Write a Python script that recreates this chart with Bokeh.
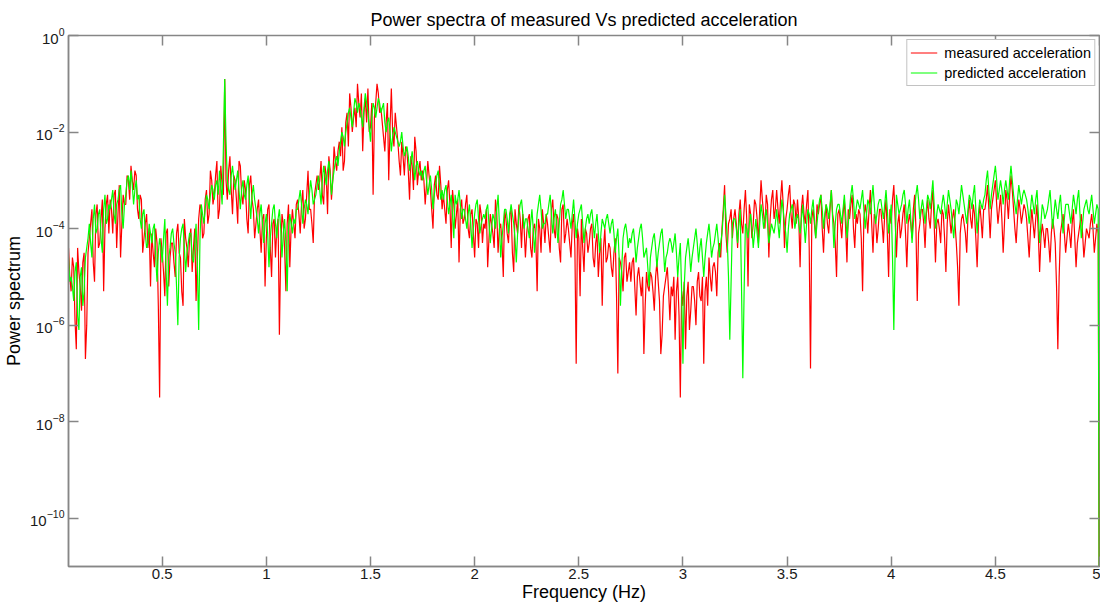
import numpy as np
from bokeh.plotting import figure
from bokeh.models import (Range1d, FixedTicker, LogAxis, LinearAxis,
                          NumeralTickFormatter, Legend, LegendItem)
from bokeh.embed import file_html
from bokeh.resources import INLINE

# ---- data ----
title_text = "Power spectra of measured Vs predicted acceleration"
x_label = "Frequency (Hz)"
y_label = "Power spectrum"
series_names = ["measured acceleration", "predicted acceleration"]

freq_start_hz = 0.05
freq_step_hz = 0.00625
n_bins = 793
frequency_hz = [round(freq_start_hz + freq_step_hz * i, 5) for i in range(n_bins)]

# Power spectrum values as log10(power).
# "even" lists hold bins 0, 2, 4, ... (0.05, 0.0625, ... 5.0 Hz),
# "odd" lists hold the bins in between (0.05625, 0.06875, ... 4.99375 Hz).
measured_log10_even = [
    -4.4, -5.3, -4.8, -6.5, -4.9, -5.7, -4.5, -6.0,
    -4.2, -3.6, -5.1, -3.5, -4.3, -3.4, -4.0, -3.3,
    -3.4, -4.1, -3.2, -3.7, -4.6, -3.3, -3.5, -3.0,
    -2.7, -3.2, -2.9, -3.8, -3.4, -4.2, -3.7, -4.0,
    -4.1, -4.8, -4.3, -7.5, -4.5, -5.4, -4.0, -4.6,
    -4.3, -5.0, -3.9, -4.6, -5.6, -4.2, -4.8, -4.0,
    -4.4, -5.5, -3.8, -3.6, -4.1, -3.2, -3.7, -3.0,
    -3.3, -2.6, -3.6, -3.1, -0.9, -3.4, -2.5, -3.7,
    -3.0, -3.9, -2.7, -3.5, -3.2, -4.1, -2.9, -3.6,
    -3.9, -3.4, -4.5, -3.7, -4.2, -3.5, -5.0, -3.8,
    -4.0, -6.2, -3.7, -4.4, -3.9, -4.8, -3.6, -4.2,
    -3.4, -4.1, -3.2, -3.8, -2.8, -3.6, -4.3, -3.1,
    -3.2, -2.6, -3.5, -2.9, -2.5, -3.4, -2.3, -2.8,
    -2.2, -1.9, -2.6, -1.6, -1.2, -2.0, -1.5, -1.0,
    -1.7, -2.4, -1.3, -1.1, -1.9, -3.3, -1.4, -1.2,
    -1.5, -2.1, -1.8, -3.0, -1.1, -2.3, -1.9, -2.6,
    -2.2, -2.9, -2.4, -3.4, -2.7, -2.1, -3.1, -2.6,
    -2.8, -3.5, -2.6, -3.2, -4.0, -2.9, -3.4, -3.1,
    -3.3, -3.9, -3.0, -4.4, -3.5, -3.7, -4.7, -3.4,
    -3.8, -3.3, -4.2, -3.6, -4.6, -3.9, -3.5, -4.3,
    -4.0, -4.8, -3.7, -4.1, -3.4, -4.5, -3.9, -5.0,
    -3.8, -4.3, -3.6, -4.9, -3.9, -3.5, -4.4, -4.0,
    -4.1, -3.7, -4.6, -3.9, -5.3, -4.0, -3.6, -4.3,
    -3.9, -4.5, -3.4, -4.2, -3.8, -4.7, -3.5, -4.1,
    -4.0, -4.6, -3.7, -6.8, -4.2, -3.8, -4.9, -4.1,
    -4.3, -3.9, -4.8, -4.1, -4.5, -5.6, -4.0, -4.6,
    -4.4, -5.0, -4.2, -7.0, -4.7, -5.3, -4.5, -4.9,
    -5.1, -4.6, -5.8, -4.8, -5.4, -6.6, -4.9, -5.3,
    -5.0, -5.7, -4.7, -5.5, -6.2, -5.2, -4.8, -5.9,
    -5.4, -6.3, -5.0, -7.5, -5.6, -6.5, -5.1, -5.7,
    -5.2, -6.0, -4.9, -5.5, -6.8, -5.0, -4.6, -5.3,
    -4.7, -5.4, -4.3, -4.0, -3.1, -4.5, -3.8, -4.2,
    -3.6, -4.4, -3.4, -4.1, -3.2, -5.2, -3.7, -3.9,
    -3.5, -4.3, -3.0, -3.7, -3.3, -4.6, -3.4, -3.8,
    -3.2, -3.9, -3.0, -4.4, -3.6, -3.1, -4.0, -3.5,
    -3.4, -4.8, -3.3, -3.9, -3.2, -6.9, -3.6, -4.2,
    -3.7, -3.3, -4.5, -3.5, -4.1, -3.2, -3.9, -5.0,
    -3.6, -4.2, -3.4, -4.7, -3.8, -3.3, -4.4, -3.9,
    -3.7, -5.3, -3.5, -4.1, -3.2, -4.5, -3.8, -4.0,
    -3.6, -4.3, -3.4, -5.0, -3.9, -3.1, -4.6, -3.7,
    -4.0, -3.5, -4.8, -3.7, -4.2, -3.3, -5.5, -3.9,
    -3.6, -4.4, -3.4, -4.0, -3.2, -4.7, -3.8, -4.3,
    -3.7, -4.9, -3.5, -4.1, -3.6, -4.3, -5.6, -3.8,
    -3.9, -4.5, -3.4, -4.0, -3.7, -4.8, -3.5, -4.2,
    -3.6, -3.1, -4.2, -3.4, -3.0, -3.9, -3.3, -4.5,
    -3.2, -3.8, -2.9, -3.6, -4.3, -3.4, -3.9, -3.5,
    -3.8, -4.6, -3.6, -4.2, -3.5, -4.9, -3.9, -4.4,
    -4.0, -4.7, -3.8, -4.3, -6.5, -4.1, -3.7, -4.5,
    -3.9, -4.4, -3.6, -4.8, -4.1, -3.7, -4.6, -4.0,
    -4.2, -3.7, -4.5, -3.9, -14.0,
]

measured_log10_odd = [
    -5.0, -4.6, -5.9, -4.4, -5.2, -4.7, -6.7, -4.5,
    -3.9, -4.7, -3.7, -4.4, -3.8, -5.3, -3.5, -4.1,
    -3.6, -3.3, -4.4, -3.1, -3.9, -3.5, -2.9, -3.4,
    -3.0, -2.8, -3.6, -3.3, -4.5, -3.9, -4.4, -5.2,
    -4.5, -4.0, -5.6, -4.2, -4.9, -4.1, -5.2, -4.3,
    -4.7, -4.1, -4.5, -5.3, -3.8, -4.4, -4.2, -4.9,
    -4.0, -4.6, -3.5, -4.2, -3.4, -3.9, -2.8, -3.5,
    -2.9, -3.8, -2.7, -3.3, -3.0, -2.8, -3.2, -2.9,
    -3.4, -2.6, -3.3, -3.0, -3.8, -3.1, -3.4, -4.2,
    -3.6, -4.0, -3.8, -5.2, -3.6, -4.4, -3.9, -4.6,
    -3.8, -4.5, -3.9, -5.3, -3.5, -4.0, -3.9, -3.5,
    -3.7, -3.5, -4.0, -3.3, -3.6, -3.9, -3.3, -2.9,
    -3.0, -3.3, -2.7, -3.7, -2.8, -3.0, -2.6, -2.4,
    -2.5, -2.8, -1.8, -2.3, -1.5, -1.7, -1.9, -1.4,
    -1.2, -1.6, -1.8, -2.0, -1.4, -1.7, -1.0, -1.6,
    -1.8, -2.4, -1.4, -1.9, -2.0, -1.6, -2.2, -2.9,
    -2.5, -2.3, -2.8, -2.5, -3.2, -2.4, -2.8, -3.0,
    -3.0, -3.1, -2.9, -3.6, -3.1, -3.3, -2.7, -3.6,
    -3.6, -3.2, -3.5, -3.2, -4.0, -3.4, -3.6, -3.9,
    -3.5, -4.0, -3.7, -4.1, -3.8, -4.4, -3.7, -3.9,
    -3.6, -4.2, -3.9, -4.4, -3.7, -4.0, -4.3, -3.6,
    -4.1, -3.7, -4.5, -3.6, -4.1, -3.8, -3.7, -4.6,
    -3.8, -4.4, -4.0, -4.2, -3.8, -4.5, -3.9, -3.7,
    -4.2, -3.6, -4.0, -3.7, -4.4, -3.6, -4.3, -3.8,
    -4.3, -3.9, -4.4, -4.0, -5.4, -4.4, -4.0, -4.5,
    -4.0, -4.6, -4.3, -5.0, -4.2, -4.4, -4.7, -4.3,
    -4.8, -4.5, -5.4, -4.6, -4.9, -4.6, -5.1, -4.7,
    -4.7, -5.2, -5.0, -5.1, -5.0, -5.6, -5.2, -4.9,
    -5.3, -5.0, -5.1, -6.6, -5.4, -5.0, -5.3, -5.2,
    -5.0, -5.3, -5.8, -5.3, -5.1, -5.4, -6.1, -5.2,
    -5.5, -5.1, -5.4, -5.0, -5.3, -5.6, -5.0, -4.8,
    -4.9, -4.5, -4.6, -3.6, -4.1, -3.9, -3.6, -3.8,
    -3.9, -3.7, -3.9, -3.6, -3.8, -3.5, -4.2, -3.4,
    -3.8, -3.6, -3.4, -4.0, -3.5, -3.8, -3.2, -3.6,
    -3.6, -3.4, -3.5, -3.8, -3.3, -3.7, -3.4, -3.9,
    -3.8, -3.6, -3.7, -3.5, -4.4, -3.8, -3.9, -3.5,
    -3.5, -4.0, -3.8, -3.9, -3.6, -3.7, -4.3, -3.7,
    -3.9, -3.7, -4.0, -3.6, -3.5, -4.0, -3.7, -3.6,
    -4.2, -3.8, -3.7, -3.6, -3.9, -3.7, -4.3, -3.6,
    -3.9, -3.7, -4.1, -3.6, -3.4, -3.8, -3.9, -4.2,
    -3.7, -4.1, -3.9, -3.9, -3.6, -4.0, -4.1, -3.6,
    -3.9, -3.7, -3.8, -3.5, -3.9, -3.9, -4.0, -3.6,
    -4.2, -3.9, -3.8, -3.8, -3.9, -4.8, -4.1, -3.7,
    -4.1, -3.7, -3.8, -3.5, -4.2, -3.9, -3.8, -3.6,
    -3.4, -3.6, -3.6, -3.2, -3.5, -3.6, -3.8, -3.9,
    -3.4, -3.3, -3.2, -4.0, -3.8, -3.6, -3.7, -3.6,
    -4.2, -4.0, -3.9, -3.8, -4.1, -4.2, -4.1, -4.0,
    -4.3, -4.1, -4.0, -5.2, -5.0, -3.9, -4.1, -4.2,
    -4.1, -3.9, -4.2, -4.3, -3.9, -4.1, -4.3, -4.1,
    -3.9, -4.0, -4.2, -4.1,
]

predicted_log10_even = [
    -4.6, -5.0, -5.5, -4.7, -6.1, -4.8, -5.3, -4.4,
    -3.9, -4.6, -3.5, -4.0, -3.6, -4.5, -3.3, -3.8,
    -3.6, -3.2, -3.9, -3.4, -3.1, -4.0, -3.3, -2.9,
    -2.8, -3.5, -3.0, -3.3, -4.0, -3.6, -4.4, -3.9,
    -4.3, -3.9, -5.1, -4.2, -4.7, -3.8, -5.6, -4.4,
    -4.0, -4.5, -6.0, -4.2, -3.9, -4.9, -4.3, -4.1,
    -4.7, -3.9, -6.1, -3.5, -3.9, -3.3, -3.6, -3.1,
    -3.4, -3.0, -2.8, -3.5, -0.9, -3.0, -3.3, -2.7,
    -3.2, -2.8, -3.6, -3.0, -3.4, -2.9, -3.8, -3.1,
    -3.6, -4.1, -3.5, -4.3, -3.7, -4.8, -3.9, -3.5,
    -4.2, -3.6, -4.6, -3.8, -5.3, -3.7, -4.1, -3.9,
    -3.6, -3.2, -3.9, -3.4, -3.7, -3.0, -3.5, -3.3,
    -2.9, -3.5, -2.7, -3.1, -2.6, -3.3, -2.8, -2.5,
    -2.4, -2.0, -2.3, -1.8, -1.5, -1.9, -1.3, -1.6,
    -1.5, -1.9, -1.2, -1.6, -2.2, -1.4, -1.7, -1.3,
    -1.6, -1.4, -2.0, -1.7, -2.4, -1.9, -2.1, -2.3,
    -2.0, -2.5, -2.3, -2.8, -2.4, -3.0, -2.6, -2.9,
    -3.0, -2.7, -3.3, -2.9, -3.6, -3.1, -2.8, -3.4,
    -3.4, -3.1, -3.7, -3.3, -4.2, -3.5, -3.2, -3.8,
    -3.6, -4.0, -3.5, -4.4, -3.7, -3.4, -4.1, -3.8,
    -3.8, -3.5, -4.3, -3.7, -4.0, -3.3, -4.6, -3.9,
    -3.6, -4.1, -3.5, -3.9, -4.7, -3.7, -3.4, -4.0,
    -3.8, -4.2, -3.6, -4.5, -3.7, -3.3, -4.0, -3.9,
    -3.7, -3.3, -4.1, -3.6, -4.3, -3.5, -3.2, -3.8,
    -3.6, -4.0, -3.4, -4.2, -3.7, -3.5, -4.3, -3.8,
    -3.9, -3.6, -4.2, -3.7, -4.5, -3.8, -4.0, -3.7,
    -4.1, -3.8, -4.5, -4.0, -5.6, -4.2, -3.9, -4.4,
    -4.3, -4.0, -4.7, -4.2, -3.9, -4.6, -4.4, -5.2,
    -4.4, -4.1, -4.8, -4.3, -4.0, -4.9, -4.5, -4.2,
    -4.5, -4.1, -5.0, -4.3, -6.8, -4.6, -4.2, -4.9,
    -4.4, -4.0, -4.7, -4.2, -5.0, -4.3, -3.9, -4.6,
    -4.3, -3.9, -4.6, -4.1, -3.3, -4.2, -6.3, -3.9,
    -3.8, -4.3, -3.6, -7.1, -3.9, -4.2, -3.7, -4.4,
    -3.8, -4.4, -3.5, -4.0, -3.6, -4.3, -3.9, -4.1,
    -3.6, -4.2, -3.4, -3.9, -4.5, -3.7, -3.5, -4.0,
    -3.7, -4.1, -3.5, -4.3, -3.6, -3.9, -3.4, -4.2,
    -3.6, -3.3, -4.0, -3.5, -3.8, -3.2, -4.4, -3.6,
    -3.5, -3.9, -3.3, -4.2, -3.6, -3.1, -3.8, -3.4,
    -3.6, -3.2, -4.0, -3.4, -3.7, -3.1, -3.9, -3.5,
    -3.4, -3.8, -3.2, -4.1, -3.5, -6.1, -3.3, -3.7,
    -3.5, -3.2, -3.9, -3.4, -4.3, -3.6, -3.1, -3.8,
    -3.4, -3.9, -3.3, -3.6, -3.0, -4.0, -3.5, -3.7,
    -3.3, -3.8, -3.2, -3.6, -4.2, -3.4, -3.7, -3.1,
    -3.5, -3.9, -3.3, -3.6, -3.1, -4.1, -3.4, -3.6,
    -3.3, -2.8, -3.6, -3.1, -2.7, -3.4, -3.0, -3.5,
    -3.0, -3.4, -2.7, -3.3, -3.7, -3.1, -3.5, -3.2,
    -3.4, -3.9, -3.3, -3.7, -3.2, -4.3, -3.5, -3.8,
    -3.6, -3.2, -4.0, -3.4, -3.8, -3.3, -4.1, -3.5,
    -3.5, -3.9, -3.3, -3.7, -3.2, -4.2, -3.6, -3.4,
    -3.7, -3.3, -3.9, -3.5, -14.0,
]

predicted_log10_odd = [
    -5.1, -5.2, -4.9, -5.8, -5.0, -5.6, -4.6, -4.2,
    -4.3, -3.8, -4.1, -3.7, -4.2, -3.6, -3.9, -3.5,
    -3.4, -3.7, -3.5, -3.2, -3.7, -3.5, -3.0, -3.2,
    -3.1, -3.2, -3.4, -3.8, -3.7, -4.1, -4.3, -4.1,
    -4.0, -4.6, -4.5, -4.4, -4.2, -4.9, -4.6, -4.1,
    -4.3, -5.2, -4.6, -4.0, -4.4, -4.5, -4.1, -4.6,
    -4.3, -4.8, -4.2, -3.7, -3.6, -3.4, -3.3, -3.2,
    -3.1, -3.3, -3.1, -2.3, -2.2, -3.2, -2.9, -3.0,
    -3.0, -3.2, -3.2, -3.3, -3.1, -3.4, -3.3, -3.4,
    -3.8, -3.7, -3.9, -3.9, -4.1, -4.2, -3.6, -3.9,
    -3.8, -4.0, -4.1, -4.3, -4.0, -3.9, -3.8, -3.6,
    -3.4, -3.5, -3.6, -3.5, -3.3, -3.2, -3.4, -3.1,
    -3.2, -3.0, -2.9, -2.8, -2.9, -3.0, -2.6, -2.7,
    -2.2, -2.1, -2.0, -1.6, -1.7, -1.6, -1.4, -1.4,
    -1.7, -1.5, -1.4, -1.9, -1.7, -1.5, -1.5, -1.4,
    -1.5, -1.8, -1.8, -2.0, -2.1, -2.0, -2.2, -2.2,
    -2.3, -2.4, -2.5, -2.6, -2.7, -2.7, -2.8, -2.8,
    -2.8, -3.0, -3.1, -3.2, -3.3, -2.9, -3.1, -3.2,
    -3.2, -3.4, -3.5, -3.7, -3.3, -3.4, -3.5, -3.6,
    -3.8, -3.7, -3.9, -4.0, -3.5, -3.8, -3.9, -3.7,
    -3.6, -3.9, -4.0, -3.8, -3.6, -3.9, -4.2, -3.6,
    -3.8, -3.7, -3.7, -4.2, -4.1, -3.5, -3.7, -3.8,
    -4.0, -3.9, -4.0, -4.1, -3.5, -3.6, -3.9, -3.7,
    -3.5, -3.7, -3.8, -3.9, -3.9, -3.4, -3.5, -3.6,
    -3.8, -3.7, -3.8, -3.9, -3.6, -3.9, -4.0, -3.7,
    -3.7, -3.9, -3.9, -4.1, -4.1, -3.9, -3.8, -3.9,
    -3.9, -4.1, -4.2, -4.6, -4.8, -4.0, -4.1, -4.2,
    -4.1, -4.3, -4.4, -4.0, -4.2, -4.5, -4.8, -4.6,
    -4.2, -4.4, -4.5, -4.1, -4.4, -4.6, -4.3, -4.3,
    -4.3, -4.5, -4.6, -5.3, -5.2, -4.4, -4.5, -4.6,
    -4.2, -4.3, -4.4, -4.6, -4.6, -4.1, -4.2, -4.4,
    -4.1, -4.2, -4.3, -3.7, -3.7, -5.0, -5.1, -3.8,
    -4.0, -3.9, -5.2, -5.3, -4.0, -3.9, -4.0, -4.1,
    -4.1, -3.9, -3.7, -3.8, -3.9, -4.1, -4.0, -3.9,
    -3.9, -3.8, -3.6, -4.1, -4.0, -3.6, -3.7, -3.8,
    -3.9, -3.8, -3.9, -3.9, -3.7, -3.6, -3.8, -3.9,
    -3.4, -3.6, -3.7, -3.6, -3.5, -3.8, -3.9, -3.5,
    -3.7, -3.6, -3.7, -3.9, -3.3, -3.4, -3.6, -3.5,
    -3.4, -3.6, -3.7, -3.5, -3.4, -3.5, -3.7, -3.4,
    -3.6, -3.5, -3.6, -3.8, -4.6, -4.5, -3.5, -3.6,
    -3.3, -3.5, -3.6, -3.8, -3.9, -3.3, -3.4, -3.6,
    -3.6, -3.6, -3.4, -3.3, -3.5, -3.7, -3.6, -3.5,
    -3.5, -3.5, -3.4, -3.9, -3.8, -3.5, -3.4, -3.3,
    -3.7, -3.6, -3.4, -3.3, -3.6, -3.7, -3.5, -3.4,
    -3.0, -3.2, -3.3, -2.9, -3.0, -3.2, -3.2, -3.2,
    -3.2, -3.0, -3.0, -3.5, -3.4, -3.3, -3.3, -3.3,
    -3.6, -3.6, -3.5, -3.4, -3.7, -3.9, -3.6, -3.7,
    -3.4, -3.6, -3.7, -3.6, -3.5, -3.7, -3.8, -3.5,
    -3.7, -3.6, -3.5, -3.4, -3.7, -3.9, -3.5, -3.6,
    -3.5, -3.6, -3.7, -3.6,
]

x_ticks = [0.5, 1, 1.5, 2, 2.5, 3, 3.5, 4, 4.5, 5]
y_ticks = [1e-10, 1e-8, 1e-6, 1e-4, 1e-2, 1e0]


def merge_bins(even, odd):
    merged = []
    for i, v in enumerate(even):
        merged.append(v)
        if i < len(odd):
            merged.append(odd[i])
    return merged


measured_power = [10.0 ** v for v in merge_bins(measured_log10_even, measured_log10_odd)]
predicted_power = [10.0 ** v for v in merge_bins(predicted_log10_even, predicted_log10_odd)]

# ---- figure ----
FONT = "Liberation Sans"
AXIS_GRAY = "#868686"

p = figure(width=1100, height=604, y_axis_type="log",
           x_range=Range1d(0.05, 5.0), y_range=Range1d(1e-11, 1.0),
           output_backend="svg", toolbar_location=None,
           min_border_left=68, min_border_right=1,
           min_border_top=35, min_border_bottom=37,
           background_fill_color="white", border_fill_color="white")

p.title.text = title_text
p.title.align = "center"
p.title.text_font = FONT
p.title.text_font_size = "18px"
p.title.text_font_style = "normal"
p.title.text_color = "#000000"
p.title.text_line_height = 1.0
p.title.standoff = 12

p.grid.visible = False
p.outline_line_color = AXIS_GRAY
p.outline_line_width = 1.5
p.outline_line_alpha = 1.0

r_meas = p.line(frequency_hz, measured_power, line_color="#ff0000", line_width=1.2)
r_pred = p.line(frequency_hz, predicted_power, line_color="#00ff00", line_width=1.2)

xa = p.xaxis[0]
xa.ticker = FixedTicker(ticks=x_ticks)
xa.formatter = NumeralTickFormatter(format="0.[0]")
xa.axis_label = x_label

ya = p.yaxis[0]
ya.ticker = FixedTicker(ticks=y_ticks)
ya.axis_label = y_label

for ax in (xa, ya):
    ax.axis_line_color = AXIS_GRAY
    ax.axis_line_width = 1.5
    ax.major_tick_line_color = AXIS_GRAY
    ax.major_tick_line_width = 1.5
    ax.major_tick_in = 10
    ax.major_tick_out = 0
    ax.minor_tick_line_color = None
    ax.major_label_text_font = FONT
    ax.major_label_text_font_size = "15px"
    ax.major_label_text_color = "#1a1a1a"
    ax.axis_label_text_font = FONT
    ax.axis_label_text_font_size = "18px"
    ax.axis_label_text_font_style = "normal"
    ax.axis_label_text_color = "#000000"
    ax.axis_label_text_line_height = 1.0

xa.major_label_standoff = 2
xa.axis_label_standoff = 0
ya.major_label_standoff = 4
ya.axis_label_standoff = 3

# mirrored inward ticks on the top and right edges (MATLAB box style)
top_axis = LinearAxis(ticker=FixedTicker(ticks=x_ticks),
                      major_label_text_font_size="1px", major_label_text_color=None,
                      major_label_standoff=0,
                      axis_line_color=None, major_tick_line_color=AXIS_GRAY,
                      major_tick_line_width=1.5, major_tick_in=10, major_tick_out=0,
                      minor_tick_line_color=None)
right_axis = LogAxis(ticker=FixedTicker(ticks=y_ticks),
                     major_label_text_font_size="1px", major_label_text_color=None,
                     major_label_standoff=0,
                     axis_line_color=None, major_tick_line_color=AXIS_GRAY,
                     major_tick_line_width=1.5, major_tick_in=10, major_tick_out=0,
                     minor_tick_line_color=None)
p.add_layout(top_axis, "above")
p.add_layout(right_axis, "right")

legend = Legend(items=[LegendItem(label=series_names[0], renderers=[r_meas]),
                       LegendItem(label=series_names[1], renderers=[r_pred])],
                location="top_right", margin=4, padding=3, spacing=1,
                label_height=19, glyph_height=19, glyph_width=27,
                label_standoff=7,
                label_text_font=FONT, label_text_font_size="14.5px",
                label_text_color="#000000",
                border_line_color=AXIS_GRAY, border_line_width=1.2,
                background_fill_color="white", background_fill_alpha=1.0)
p.add_layout(legend)

open("out.html", "w").write(file_html(p, INLINE))
